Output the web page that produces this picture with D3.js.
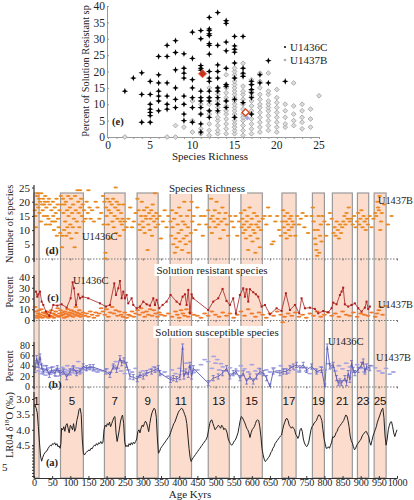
<!DOCTYPE html>
<html><head><meta charset="utf-8">
<script src="https://cdn.jsdelivr.net/npm/d3@7"></script>
<style>body{margin:0;background:#fff}svg{display:block}</style>
</head><body><svg id="c" width="414" height="500"></svg>
<script>
// ---------- DATA ----------
// (e) scatter: [species richness, percent solution resistant]
const scatterU1436C = [[2,14],[3,18],[4,19.6],[4,13],[4,4.5],
 [5,17],[5,13],[5,10],[5,8.5],[5,7.5],[5,6.5],[5,4.5],
 [6,24.6],[6,19],[6,16.5],[6,14],[6,12.5],[6,11],[6,8],
 [7,28],[7,24.6],[7,16.5],[7,12.5],[7,10],[7,8.5],
 [8,29.4],[8,25.8],[8,20.5],[8,15],[8,11.5],[8,9],
 [9,25.4],[9,21],[9,19.5],[9,18],[9,12.5],[9,10],[9,7],[9,5],
 [10,32],[10,24],[10,17.5],[10,15],[10,12],[10,9],[10,4.5],
 [11,32.5],[11,30],[11,21.8],[11,21],[11,20.4],[11,14],[11,12],[11,11],[11,9],[11,7],[11,4],[11,1.5],
 [12,36.5],[12,33],[12,32.5],[12,31.5],[12,31],[12,28.5],[12,28],[12,25.3],[12,20],[12,18],[12,17],[12,14],[12,12],[12,11],[12,8],[12,6],
 [13,38],[13,28],[13,22],[13,20],[13,18],[13,15],[13,14],[13,12],[13,10],[13,8],
 [14,35.5],[14,34.7],[14,29],[14,26.3],[14,21],[14,16],[14,15.5],[14,11],[14,9],
 [15,30.7],[15,27.8],[15,26.8],[15,25.9],[15,22.6],[15,18],[15,11.5],[15,6],
 [16,30.7],[16,21],[16,19.5],[16,18.5],[16,10.5],
 [17,17],[17,16],[17,14.5],[17,13.5],[17,12],[17,7],
 [18,16.5],[18,19],[19,23.3],[19,16.5],[21,17]];
const scatterU1437B = [[2,0],[7,0],[8,0],[8,3.5],[9,3],[10,1.5],[10,5],[10,11],
 [11,1],[11,2.5],[11,7],[11,10],
 [12,0.5],[12,2],[12,4],[12,7],[12,8],[12,10],[12,12],[12,15],
 [13,1],[13,2],[13,3.5],[13,5],[13,6],[13,7.5],[13,9],[13,10],[13,11],[13,13],[13,14],[13,15],
 [14,1],[14,2.5],[14,4],[14,5.5],[14,7],[14,8],[14,9.5],[14,11],[14,12],[14,13.5],[14,15],[14,16],[14,19],
 [15,1],[15,2],[15,3],[15,4],[15,5],[15,6],[15,7],[15,8],[15,9],[15,10],[15,11],[15,12],[15,13],[15,14],[15,15],[15,16],[15,17],[15,18],[15,19],[15,20],[15,21],
 [16,0.5],[16,2],[16,3.5],[16,5],[16,6],[16,7],[16,8.5],[16,10],[16,11.5],[16,13],[16,14],[16,15.5],[16,19],[16,22.5],
 [17,1],[17,2.5],[17,4],[17,5.5],[17,7],[17,8],[17,9.5],[17,11],[17,12.5],[17,14],[17,16],[17,17.5],
 [18,1.5],[18,3],[18,4.5],[18,6],[18,7.5],[18,9],[18,10],[18,11.5],[18,13],[18,15],[18,17],[18,19.5],
 [19,2],[19,3.5],[19,5],[19,6.5],[19,8],[19,9],[19,10],[19,11],[19,13],[19,14],[19,19.5],
 [20,1.5],[20,3],[20,4.5],[20,6],[20,7.5],[20,9],[20,10.5],[20,12],[20,14.5],
 [21,3],[21,4],[21,6],[21,8],[21,10],
 [22,3.5],[22,5],[22,7],[22,9.5],[22,16.5],
 [23,2.5],[23,4.5],[23,6],[23,8],[23,10],[24,3],[24,5.5],[24,8.5],[25,12.6]];
const meanU1436C = [11.2, 19.3];
const meanU1437B = [16.3, 7.5];
const meanLav = [16.5, 5.8];
const scatterXTicks = [0,5,10,15,20,25];
const scatterYTicks = [0,5,10,15,20,25,30,35,40];

// glacial/interglacial bands (kyr) and MIS labels
const bandStart = [0,73,194,284,375,480,570,683,767,822,891,937];
const bandEnd   = [14,136,251,342,434,538,629,722,800,877,922,970];
const stageLabels = ["1","5","7","9","11","13","15","17","19","21","23","25"];
const ageTicks = [0,50,100,150,200,250,300,350,400,450,500,550,600,650,700,750,800,850,900,950,1000];

// (d) species richness [age kyr, number of species]
const richness = [[2,17],[4,15],[5,11],[6,19],[8,22],[10,23],[12,18],[14,21],[15,16],[17,20],[19,13],[20,23],[22,19],[24,17],[25,21],[27,15],[28,19],[30,20],[31,22],[33,12],[34,18],[36,15],[38,20],[40,14],[41,21],[43,19],[44,12],[46,2],[48,17],[50,13],[52,20],[53,15],[55,10],[57,18],[58,13],[60,16],[62,21],[63,8],[65,19],[66,14],[68,11],[70,17],
 [72,9],[74,22],[75,19],[77,4],[78,8],[80,21],[81,16],[83,10],[84,19],[86,13],[88,20],[89,8],[91,17],[92,11],[94,22],[95,15],[97,9],[99,18],[100,12],[102,21],[103,7],[105,16],[107,11],[108,19],[110,14],[112,4],[113,22],[115,17],[117,9],[118,13],[120,24],[122,20],[123,16],[125,11],[127,24],[128,18],[130,21],[132,15],[134,19],[136,13],[138,17],
 [142,14],[145,20],[148,16],[150,24],[153,18],[156,14],[160,17],[165,13],[170,20],[175,18],[180,14],[185,16],[190,22],[192,12],[194,20],[196,0],[197,2],[198,18],[200,15],[202,21],[204,12],[206,17],[208,20],[210,7],[212,16],[214,19],[216,13],[218,21],[220,11],[222,15],[224,18],[225,25],[226,9],[228,20],[230,14],[232,17],[234,19],[236,8],[238,13],[240,16],[242,12],[244,14],[246,19],[248,10],[250,13],[255,11],[260,14],
 [265,18],[270,11],[275,13],[280,16],[285,21],[288,17],[290,12],[292,10],[295,15],[297,20],[299,13],[301,11],[303,17],[305,9],[307,15],[309,14],[311,18],[313,3],[315,12],[317,16],[319,10],[321,14],[323,17],[325,8],[327,19],[329,15],[331,13],[333,23],[335,11],[337,16],[339,14],[342,12],[346,15],[350,7],
 [355,13],[360,17],[365,11],[370,15],[376,13],[378,8],[380,17],[382,11],[384,5],[386,14],[388,2],[390,7],[392,16],[394,4],[396,12],[398,9],[400,18],[402,6],[404,15],[406,10],[408,3],[410,13],[412,7],[414,20],[416,12],[418,5],[420,8],[422,15],[424,11],[426,2],[428,17],[430,6],[432,9],[434,20],[436,13],[440,15],[445,10],[450,18],
 [455,12],[460,15],[465,8],[470,15],[475,12],[480,17],[483,11],[486,14],[488,21],[490,9],[492,15],[495,13],[498,17],[500,11],[503,20],[506,14],[508,12],[510,16],[513,7],[516,13],[519,18],[522,10],[525,14],[528,16],[531,12],[535,8],[540,15],[545,13],[550,11],[555,15],
 [560,8],[565,13],[570,16],[572,11],[574,14],[576,9],[578,12],[580,17],[582,10],[584,7],[586,13],[588,15],[590,3],[592,11],[594,18],[596,8],[598,12],[600,14],[602,6],[604,10],[606,16],[608,9],[610,2],[612,12],[614,15],[616,7],[618,11],[620,13],[622,4],[625,10],[630,14],[635,15],[640,12],[645,18],
 [650,15],[655,5],[660,6],[665,13],[670,15],[675,10],[680,8],[684,13],[686,17],[688,11],[690,15],[692,9],[694,13],[696,7],[698,16],[700,12],[702,10],[704,14],[706,8],[708,15],[710,11],[712,13],[716,12],[720,8],[725,15],[730,12],[735,14],[740,16],[745,11],[750,15],[755,9],
 [765,15],[768,18],[770,13],[772,10],[774,7],[776,5],[778,3],[780,1],[782,10],[784,15],[786,2],[788,8],[790,12],[792,6],[795,15],[800,13],[805,8],[810,12],[815,16],[820,14],
 [825,9],[828,11],[831,8],[834,13],[837,10],[840,7],[843,12],[846,9],[849,11],[852,13],[855,15],[858,12],[861,16],[864,14],[867,18],[870,13],[874,14],[878,12],
 [882,15],[886,11],[890,13],[893,16],[896,12],[899,14],[902,17],[905,11],[908,15],[911,13],[914,10],[917,14],[920,12],[925,15],[930,11],[935,14],[940,16],[943,15],[946,20],[948,18],[950,17],[952,22],[954,10],[956,13],[958,16],[965,19],[975,12],[985,15]];
const richTicks = [0,5,10,15,20,25];

// (c) solution resistant species, percent
const resistU1436C = [[5.4,26.4],[9.1,21.7],[11.9,23.9],[16.5,26.4],[21,17.1],[25.6,14],[33,7.8],[42.2,3.8],[53.2,14],[64.2,13.4],[76.1,14.6],[89.9,11.5],[100.9,20.2],[106.4,35.1],[110.1,29.5],[115.6,14],[122,23.9],[126.6,20.2],[134,21.7],[149.6,20.2],[181.7,15.5],[198.2,12.5],[209.2,14],[221.2,34.1],[225.8,23.3],[232.2,29.5],[236.8,36.3],[241.4,20.2],[246,26.4],[250.6,20.2],[255.1,23.3],[259.7,15.5],[268.9,20.2],[273.5,14],[282.7,10.9],[291.9,12.5],[301,17.1],[310.2,14.6],[319.4,13.4],[328.6,20.2],[333.2,14],[337.8,18.7],[345.1,10.9],[354.3,14],[365.3,17.1],[376.3,23.3],[392.8,17.1],[402,14.6],[409.4,21.7],[415.8,23.9],[420.4,14],[425,28],[429.6,6.2],[434.2,23.9],[438.7,20.2],[480,9.3],[493.8,17.1],[507.6,20.2],[519.5,28.9],[530.5,17.7],[539.7,14],[548.9,20.2],[556.2,6.2],[567.3,23.3],[576.4,29.5],[581,21.7],[585.6,28.6],[590.2,17.1],[594.8,28.6],[604,25.8],[611.3,23.9],[617.8,21.7],[626.9,12.5],[636.1,14],[649.9,5.3],[668.2,10.9],[682,8.4],[693.9,24.9],[705,9.3],[718.7,14],[730.7,6.2],[737.1,20.2],[746.3,10.9],[760,11.5],[773.8,10.3],[783,6.2],[796.8,8.4],[810.5,7.2],[819.7,10.9],[824.3,16.2],[833.5,14.6],[842.7,23.3],[847.3,26.4],[851.8,30.1],[856.4,14.6],[865.6,12.5],[874.8,14],[884,15.5],[893.2,10.9],[902.3,7.8],[911.5,11.5],[916.1,17.1],[920.7,10.3],[925.3,12.5]];
const resistU1437B = [[3,12],[5,8],[7,4],[9,2],[12,6],[14,9],[16,3],[18,5],[20,10],[23,2],[25,7],[28,4],[30,6],[33,3],[35,8],[38,5],[40,2],[43,7],[45,4],[48,9],[50,3],[53,6],[55,2],[58,5],[60,8],[63,4],[65,11],[68,3],[70,6],[73,9],[75,4],[78,7],[80,5],[83,2],[85,8],[88,6],[90,3],[93,10],[95,5],[98,7],[100,4],[103,9],[105,6],[108,3],[110,8],[113,5],[115,12],[118,7],[120,4],[123,6],[125,9],[128,3],[130,5],[135,7],[140,4],[145,6],[150,3],[155,8],[160,5],[165,2],[170,7],[175,4],[180,6],[185,11],[190,8],[195,5],[200,10],[205,3],[210,7],[215,12],[220,6],[225,9],[230,4],[235,8],[240,5],[245,3],[250,7],[255,2],[260,5],[265,4],[270,8],[275,3],[280,6],[285,9],[290,5],[295,11],[300,7],[305,3],[310,8],[315,5],[320,10],[325,4],[330,9],[335,6],[340,3],[345,7],[350,5],[360,4],[370,6],[380,3],[390,8],[395,5],[400,2],[405,9],[410,6],[415,4],[420,10],[425,3],[430,7],[440,5],[450,4],[460,2],[470,6],[480,4],[490,8],[500,5],[510,3],[520,7],[530,4],[540,6],[550,2],[560,5],[570,8],[580,4],[590,10],[600,6],[610,3],[620,7],[630,5],[640,2],[650,6],[660,4],[670,8],[680,5],[685,-2],[690,3],[700,6],[710,4],[720,7],[730,3],[740,5],[750,2],[760,6],[770,4],[780,8],[790,3],[800,5],[810,7],[820,4],[830,6],[840,3],[850,8],[860,5],[870,4],[880,7],[890,3],[900,6],[910,5],[920,4],[930,7],[940,3],[945,6],[950,9],[955,12],[960,5],[970,13]];
const resistTicks = [0,10,20,30,40];

// (b) solution susceptible species, percent
const suscU1436C = [[2.7,32.1],[7.3,54.5],[11.9,41.7],[16.5,57.8],[21,38.5],[25.6,28.9],[34.8,35.3],[42.2,22.5],[48.6,32.1],[57.8,25.7],[64.2,35.3],[71.5,25.7],[80.7,28.9],[89.9,18],[99.1,28.9],[108.3,35.3],[117.4,25.7],[126.6,28.9],[135.8,38.5],[145,35.3],[154.2,37.2],[163.3,37.2],[198.2,28.9],[209.2,22.5],[218.4,38.5],[227.6,32.1],[236.8,54.5],[241.4,44.9],[247.8,50.1],[255.1,41.7],[264.3,19.3],[273.5,18],[284.5,14.2],[291.9,22.5],[301,19.3],[310.2,25.7],[324,28.9],[333.2,32.1],[342.4,35.3],[346.9,25.7],[376.3,12.9],[383.7,16.1],[392.8,14.2],[402,18],[409.4,77],[413,19.3],[418.5,28.9],[425,22.5],[429.6,41.7],[434.2,19.3],[438.7,35.3],[480,6.5],[493.8,16.1],[507.6,19.3],[519.5,25.7],[530.5,35.3],[539.7,19.3],[548.9,25.7],[556.2,28.9],[567.3,16.1],[576.4,25.7],[585.6,9.7],[594.8,19.3],[604,9.7],[613.2,19.3],[622.3,28.9],[631.5,25.7],[640.7,16.1],[649.9,0],[659.1,28.9],[677.4,25.7],[686.6,28.9],[695.8,28.9],[705,35.3],[714.1,38.5],[723.3,41.7],[732.5,35.3],[741.7,41.7],[750.9,32.1],[764.6,38.5],[778.4,28.9],[792.2,32.1],[801.4,0],[807.8,77],[815.1,38.5],[824.3,41.7],[833.5,16.1],[838.1,6.5],[842.7,9.7],[847.3,6.5],[856.4,16.1],[861,6.5],[865.6,25.7],[870.2,12.9],[874.8,44.9],[879.4,32.1],[884,25.7],[893.2,32.1],[902.3,41.7],[906.9,48.1],[911.5,28.9],[916.1,38.5],[925.3,35.3]];
const suscU1437B = [[5,45],[8,38],[12,30],[15,42],[18,25],[22,35],[25,28],[28,40],[32,22],[35,33],[38,27],[42,36],[45,24],[48,30],[52,38],[55,26],[58,32],[62,20],[65,35],[68,28],[72,31],[75,24],[78,37],[82,29],[85,33],[88,26],[92,40],[95,30],[98,22],[102,34],[105,27],[108,38],[112,31],[115,25],[118,36],[122,48],[125,30],[128,35],[132,27],[136,38],[140,32],[145,36],[150,34],[155,38],[160,36],[165,30],[170,33],[175,28],[180,31],[190,30],[200,34],[210,27],[220,40],[225,48],[230,35],[240,30],[250,25],[260,32],[270,28],[280,35],[290,22],[300,30],[310,26],[320,33],[330,38],[340,30],[350,24],[360,28],[370,20],[380,32],[390,25],[400,35],[410,30],[420,45],[430,38],[440,27],[450,32],[460,42],[470,52],[480,48],[490,35],[495,58],[500,45],[505,52],[510,32],[515,44],[520,38],[530,30],[540,36],[550,25],[560,30],[570,40],[580,34],[590,28],[600,42],[610,30],[620,35],[630,25],[640,32],[650,28],[660,36],[670,30],[680,40],[690,34],[700,26],[710,38],[720,32],[730,28],[740,36],[750,30],[760,25],[770,34],[780,28],[790,38],[800,32],[810,44],[820,36],[830,30],[840,40],[850,34],[860,45],[870,38],[880,30],[890,42],[900,35],[910,28],[920,33],[930,40],[940,36],[950,30],[960,26],[970,35],[980,24],[990,28]];
const suscTicks = [0,20,40,60,80];
const suscErr = 5;

// (a) LR04 benthic d18O stack [age kyr, permil]
const lr04 = [[0,3.25],[3,3.2],[6,3.3],[9,3.45],[12,3.9],[15,4.4],[18,4.85],[21,5.02],[24,4.9],[27,4.8],[30,4.75],[33,4.7],[36,4.68],[39,4.6],[42,4.55],[45,4.5],[48,4.52],[51,4.45],[54,4.47],[57,4.42],[60,4.5],[63,4.45],[66,4.55],[69,4.52],[72,4.6],[74,4.45],[76,3.95],[79,4.0],[82,3.9],[85,4.05],[88,3.85],[91,3.8],[94,3.95],[97,4.1],[100,3.85],[103,3.9],[106,4.0],[109,3.8],[112,4.05],[115,3.95],[118,3.7],[121,3.55],[124,3.35],[127,3.3],[130,3.5],[133,4.3],[136,4.76],[139,4.82],[142,4.75],[145,4.72],[148,4.7],[151,4.65],[154,4.68],[157,4.6],[160,4.62],[163,4.55],[166,4.5],[169,4.52],[172,4.45],[175,4.5],[178,4.42],[181,4.45],[184,4.38],[187,4.45],[190,4.4],[193,4.0],[196,3.85],[199,3.9],[202,3.8],[205,3.85],[208,3.75],[211,3.9],[214,3.8],[217,3.7],[220,3.6],[223,3.57],[226,4.1],[229,4.38],[232,4.2],[235,4.0],[238,3.75],[241,3.6],[244,3.52],[247,3.8],[250,4.4],[253,4.55],[256,4.5],[259,4.55],[262,4.45],[265,4.5],[268,4.42],[271,4.48],[274,4.4],[277,4.45],[280,4.38],[283,4.3],[286,4.06],[289,4.0],[292,4.1],[295,3.95],[298,3.85],[301,3.9],[304,3.8],[307,3.72],[310,3.78],[313,3.9],[316,4.06],[319,3.8],[322,3.6],[325,3.45],[328,3.36],[331,3.3],[334,3.35],[337,3.6],[340,4.3],[343,4.76],[346,4.7],[349,4.6],[352,4.55],[355,4.5],[358,4.45],[361,4.4],[364,4.35],[367,4.3],[370,4.25],[373,4.2],[376,4.1],[379,4.0],[382,3.9],[385,3.8],[388,3.75],[391,3.65],[394,3.55],[397,3.45],[400,3.38],[403,3.35],[406,3.3],[409,3.32],[412,3.4],[415,3.5],[418,3.6],[421,3.8],[424,4.2],[427,4.6],[430,4.9],[433,5.03],[436,4.95],[439,4.9],[442,4.85],[445,4.8],[448,4.75],[451,4.7],[454,4.65],[457,4.6],[460,4.55],[463,4.5],[466,4.45],[469,4.4],[472,4.35],[475,4.3],[478,4.2],[481,4.0],[484,3.8],[487,3.7],[490,3.68],[493,3.8],[496,3.9],[499,4.0],[502,3.95],[505,3.9],[508,3.85],[511,3.9],[514,3.95],[517,3.85],[520,3.9],[523,4.0],[526,3.95],[529,4.0],[532,4.1],[535,4.3],[538,4.38],[541,4.45],[544,4.5],[547,4.48],[550,4.4],[553,4.35],[556,4.3],[559,4.2],[562,4.1],[565,3.9],[568,3.7],[571,3.57],[574,3.6],[577,3.68],[580,3.75],[583,3.85],[586,3.95],[589,4.0],[592,4.1],[595,4.25],[598,4.1],[601,4.0],[604,3.95],[607,3.9],[610,3.8],[613,3.7],[616,3.68],[619,3.7],[622,3.9],[625,4.2],[628,4.6],[631,4.8],[634,4.95],[637,5.03],[640,5.0],[643,4.95],[646,4.9],[649,4.85],[652,4.75],[655,4.7],[658,4.6],[661,4.55],[664,4.45],[667,4.4],[670,4.35],[673,4.3],[676,4.25],[679,4.2],[682,4.17],[685,4.0],[688,3.85],[691,3.75],[694,3.65],[697,3.63],[700,3.7],[703,3.85],[706,3.9],[709,3.95],[712,3.9],[715,3.95],[718,4.0],[721,4.15],[724,4.2],[727,4.28],[730,4.2],[733,4.0],[736,3.95],[739,4.05],[742,4.3],[745,4.43],[748,4.5],[751,4.55],[754,4.5],[757,4.4],[760,4.2],[763,4.0],[766,3.9],[769,3.85],[772,3.78],[775,3.74],[778,3.7],[781,3.6],[784,3.52],[787,3.52],[790,3.6],[793,3.7],[796,4.0],[799,4.28],[802,4.45],[805,4.6],[808,4.6],[811,4.55],[814,4.6],[817,4.5],[820,4.4],[823,4.22],[826,4.25],[829,4.2],[832,4.1],[835,4.05],[838,3.95],[841,3.9],[844,3.85],[847,3.8],[850,3.75],[853,3.7],[856,3.6],[859,3.52],[862,3.55],[865,3.7],[868,3.9],[871,4.2],[874,4.35],[877,4.43],[880,4.55],[883,4.65],[886,4.6],[889,4.5],[892,4.45],[895,4.4],[898,4.35],[901,4.3],[904,4.2],[907,4.15],[910,4.1],[913,4.06],[916,4.06],[919,4.15],[922,4.2],[925,4.4],[928,4.5],[931,4.35],[934,4.2],[937,4.1],[940,4.0],[943,3.9],[946,3.75],[949,3.65],[952,3.55],[955,3.45],[958,3.35],[961,3.3],[964,3.6],[967,4.2],[970,4.5],[973,4.3],[976,4.0],[979,3.85],[982,3.75],[985,3.74],[988,3.9],[991,4.1],[994,4.22],[997,4.1],[1000,4.0]];
const lrTicks = [3,3.5,4,4.5];

// ---------- DRAW ----------
const svg = d3.select('#c');
const serif = '"Liberation Serif","Times New Roman",serif';
const sans = '"Liberation Sans",Arial,sans-serif';

function txt(g, x, y, s, o = {}) {
  const t = g.append('text').attr('x', x).attr('y', y).text(s)
    .attr('font-family', o.font || serif).attr('font-size', o.size || 11)
    .attr('fill', o.fill || '#222').attr('text-anchor', o.anchor || 'start');
  if (o.weight) t.attr('font-weight', o.weight);
  if (o.rotate) t.attr('transform', `rotate(-90,${x},${y})`);
  return t;
}
function whiteBg(t, pad = 2) {
  const b = t.node().getBBox();
  d3.select(t.node().parentNode).insert('rect', () => t.node())
    .attr('x', b.x - pad).attr('y', b.y).attr('width', b.width + 2 * pad).attr('height', b.height)
    .attr('fill', '#fff');
}

// ===== (e) scatter =====
const xE = d3.scaleLinear().domain([0, 25]).range([108, 319]);
const yE = d3.scaleLinear().domain([0, 40]).range([137, 6]);
const gE = svg.append('g');
const ax = gE.append('g').attr('transform', 'translate(0,137)')
  .call(d3.axisBottom(xE).tickValues(d3.range(0, 26, 1)).tickSize(2).tickFormat(''));
ax.select('.domain').attr('stroke', '#999');
ax.selectAll('.tick line').attr('stroke', '#999');
scatterXTicks.forEach(v => txt(gE, xE(v), 149, v, { anchor: 'middle', size: 11.5 }));
const ay = gE.append('g').attr('transform', 'translate(107,0)')
  .call(d3.axisLeft(yE).tickValues(scatterYTicks).tickSize(-2).tickPadding(2));
ay.select('.domain').attr('stroke', '#999');
ay.selectAll('.tick line').attr('stroke', '#999');
ay.selectAll('.tick text').attr('font-family', serif).attr('font-size', 11.5).attr('fill', '#222');
txt(gE, 210, 160, 'Species Richness', { anchor: 'middle', size: 11 });
txt(gE, 89, 71, 'Percent of Solution  Resistant sp', { anchor: 'middle', size: 10.3, rotate: true });
txt(gE, 112, 125, '(e)', { size: 10.5, weight: 'bold' });

const diamond = 'M0,-2.4L2.4,0L0,2.4L-2.4,0Z';
const star = 'M0,-3.3L0.9,-0.9L3.3,0L0.9,0.9L0,3.3L-0.9,0.9L-3.3,0L-0.9,-0.9Z';
gE.selectAll('.gb').data(scatterU1437B).join('path')
  .attr('d', diamond).attr('transform', d => `translate(${xE(d[0])},${yE(d[1])})`)
  .attr('fill', '#dcdcdc').attr('stroke', '#a0a0a0').attr('stroke-width', 0.8);
gE.selectAll('.bc').data(scatterU1436C).join('path')
  .attr('d', star).attr('transform', d => `translate(${xE(d[0])},${yE(d[1])})`)
  .attr('fill', '#000');
gE.append('path').attr('d', 'M0,-2.5L2.5,0L0,2.5L-2.5,0Z')
  .attr('transform', `translate(${xE(meanLav[0])},${yE(meanLav[1])})`).attr('fill', '#a8a8e0');
gE.append('path').attr('d', 'M0,-4L4,0L0,4L-4,0Z')
  .attr('transform', `translate(${xE(meanU1436C[0])},${yE(meanU1436C[1])})`)
  .attr('fill', '#c8301c').attr('stroke', '#e86040').attr('stroke-width', 1);
gE.append('path').attr('d', 'M0,-3.6L3.6,0L0,3.6L-3.6,0Z')
  .attr('transform', `translate(${xE(meanU1437B[0])},${yE(meanU1437B[1])})`)
  .attr('fill', '#fff').attr('stroke', '#d8401c').attr('stroke-width', 1.3);
// legend
gE.append('circle').attr('cx', 285).attr('cy', 47).attr('r', 1).attr('fill', '#000');
txt(gE, 290, 51, 'U1436C', { size: 11 });
gE.append('path').attr('d', 'M0,-1.6L1.6,0L0,1.6L-1.6,0Z').attr('transform', 'translate(285,60)').attr('fill', '#aaa');
txt(gE, 290, 64, 'U1437B', { size: 11 });

// ===== time-series panels =====
const x = d3.scaleLinear().domain([0, 1000]).range([34, 397]);
const yD = d3.scaleLinear().domain([0, 25]).range([258.5, 187.5]);
const yC = d3.scaleLinear().domain([0, 40]).range([320, 277]);
const yB = d3.scaleLinear().domain([0, 80]).range([386.5, 345]);
const yA = d3.scaleLinear().domain([3, 5.5]).range([399, 476]);

const gBands = svg.append('g');
bandStart.forEach((s, i) => {
  gBands.append('rect').attr('x', x(s)).attr('y', 193)
    .attr('width', x(bandEnd[i]) - x(s)).attr('height', 478 - 193)
    .attr('fill', '#fcdccd').attr('stroke', '#9a9a9a').attr('stroke-width', 1.2);
});

const gT = svg.append('g');
// baseline axes (dotted) for d, c, b
[[yD, 258.5], [yC, 320], [yB, 386.5]].forEach(([s, yy]) => {
  const a = gT.append('g').attr('transform', `translate(0,${yy})`)
    .call(d3.axisBottom(x).tickValues(ageTicks).tickSize(2).tickFormat(''));
  a.select('.domain').attr('stroke', '#777').attr('stroke-dasharray', '1.5,1.5');
  a.selectAll('.tick line').attr('stroke', '#777');
});

function yAxis(scale, ticks, x0, y0, y1, fs = 11) {
  const a = gT.append('g').attr('transform', `translate(${x0},0)`)
    .call(d3.axisLeft(scale).tickValues(ticks).tickSize(2).tickPadding(2));
  a.select('.domain').remove();
  a.append('line').attr('y1', y0).attr('y2', y1).attr('stroke', '#333').attr('stroke-width', 1.2);
  a.selectAll('.tick line').attr('stroke', '#333');
  a.selectAll('.tick text').attr('font-family', serif).attr('font-size', fs).attr('fill', '#222');
  return a;
}

// (d) species richness
const dash = (g, data, sc, col, w, h) => g.selectAll(null).data(data).join('ellipse')
  .attr('cx', d => x(d[0])).attr('cy', d => sc(d[1])).attr('rx', w).attr('ry', h).attr('fill', col);
dash(gT, richness, yD, '#ea8a1e', 2.3, 1.0);
yAxis(yD, richTicks, 34, 185, 262);

// (c) solution resistant
dash(gT, resistU1437B, yC, '#f07a2a', 2.5, 1.0);
gT.append('path').datum(resistU1436C)
  .attr('d', d3.line().x(d => x(d[0])).y(d => yC(d[1])))
  .attr('fill', 'none').attr('stroke', '#a82020').attr('stroke-width', 0.8);
gT.selectAll(null).data(resistU1436C).join('rect')
  .attr('x', d => x(d[0]) - 1).attr('y', d => yC(d[1]) - 1).attr('width', 2).attr('height', 2)
  .attr('fill', '#b01c1c');
yAxis(yC, resistTicks, 34, 275, 322);

// (b) solution susceptible
dash(gT, suscU1437B, yB, '#a4a4e4', 2.6, 0.9);
const gErr = gT.append('g').attr('stroke', '#6a6ac0').attr('stroke-width', 0.8);
suscU1436C.forEach(d => {
  const y0 = yB(Math.max(0, d[1] - suscErr)), y1 = yB(d[1] + suscErr), xx = x(d[0]);
  gErr.append('line').attr('x1', xx).attr('x2', xx).attr('y1', y0).attr('y2', y1);
  gErr.append('line').attr('x1', xx - 1.5).attr('x2', xx + 1.5).attr('y1', y1).attr('y2', y1);
  gErr.append('line').attr('x1', xx - 1.5).attr('x2', xx + 1.5).attr('y1', y0).attr('y2', y0);
});
gT.append('path').datum(suscU1436C)
  .attr('d', d3.line().x(d => x(d[0])).y(d => yB(d[1])))
  .attr('fill', 'none').attr('stroke', '#5a5ab8').attr('stroke-width', 0.9);
yAxis(yB, suscTicks, 34, 342, 389, 10);

// (a) LR04
gT.append('path').datum(lr04)
  .attr('d', d3.line().x(d => x(d[0])).y(d => yA(d[1])))
  .attr('fill', 'none').attr('stroke', '#222').attr('stroke-width', 1);
yAxis(yA, lrTicks, 34, 392, 478);
gT.append('g').attr('transform', 'translate(34,0)')
  .call(d3.axisLeft(yA).tickValues(d3.range(4.5, 5.51, 0.1)).tickSize(2).tickFormat(''))
  .call(g => { g.select('.domain').remove(); g.selectAll('line').attr('stroke', '#333'); });
txt(gT, 2, yA(5) + 10.5, '5', { size: 11 });
const axB = gT.append('g').attr('transform', 'translate(0,478)')
  .call(d3.axisBottom(x).tickValues(ageTicks).tickSize(-2).tickFormat(d3.format('d')));
axB.select('.domain').attr('stroke', '#333');
axB.selectAll('.tick line').attr('stroke', '#333');
axB.selectAll('.tick text').attr('y', 8).attr('dy', '0em').attr('dominant-baseline', 'auto')
  .attr('font-family', serif).attr('font-size', 10.2).attr('letter-spacing', -0.2).attr('fill', '#222');
txt(gT, 190, 498, 'Age Kyrs', { anchor: 'middle', size: 11 });

// stage labels
stageLabels.forEach((s, i) => txt(gT, x((bandStart[i] + bandEnd[i]) / 2), 405, s,
  { anchor: 'middle', font: sans, size: 11.5, fill: '#111' }));

// titles with white backgrounds
whiteBg(txt(gT, 207, 192, 'Species Richness', { anchor: 'middle', size: 11 }));
whiteBg(txt(gT, 212, 274, 'Solution resistant species', { anchor: 'middle', size: 11 }));
whiteBg(txt(gT, 217, 336, 'Solution susceptible species', { anchor: 'middle', size: 11 }));

// panel labels & site labels
txt(gT, 52, 254, '(d)', { anchor: 'middle', size: 10.5, weight: 'bold' });
txt(gT, 82, 240, 'U1436C', { size: 10.5 });
txt(gT, 378, 204, 'U1437B', { size: 10.3 });
txt(gT, 53, 301, '(c)', { anchor: 'middle', size: 10.5, weight: 'bold' });
txt(gT, 73, 284, 'U1436C', { size: 10.5 });
txt(gT, 378, 308, 'U1437B', { size: 10.3 });
txt(gT, 55, 388, '(b)', { anchor: 'middle', size: 10.5, weight: 'bold' });
txt(gT, 328, 345, 'U1436C', { size: 10.5 });
txt(gT, 376, 361, 'U1437B', { size: 10.3 });
txt(gT, 52, 466, '(a)', { anchor: 'middle', size: 10.5, weight: 'bold' });

// y-axis titles
txt(gT, 13, 224, 'Number of species', { anchor: 'middle', size: 10.5, rotate: true });
txt(gT, 13, 292, 'Percent', { anchor: 'middle', size: 10.5, rotate: true });
txt(gT, 13, 366, 'Percent', { anchor: 'middle', size: 10.5, rotate: true });
const lt = gT.append('text').attr('transform', 'translate(13,425) rotate(-90)')
  .attr('text-anchor', 'middle').attr('font-family', serif).attr('font-size', 10.5).attr('fill', '#222');
lt.append('tspan').text('LR04 δ');
lt.append('tspan').attr('font-size', 7).attr('dy', -4).text('18');
lt.append('tspan').attr('dy', 4).text('O (‰)');
</script></body></html>
